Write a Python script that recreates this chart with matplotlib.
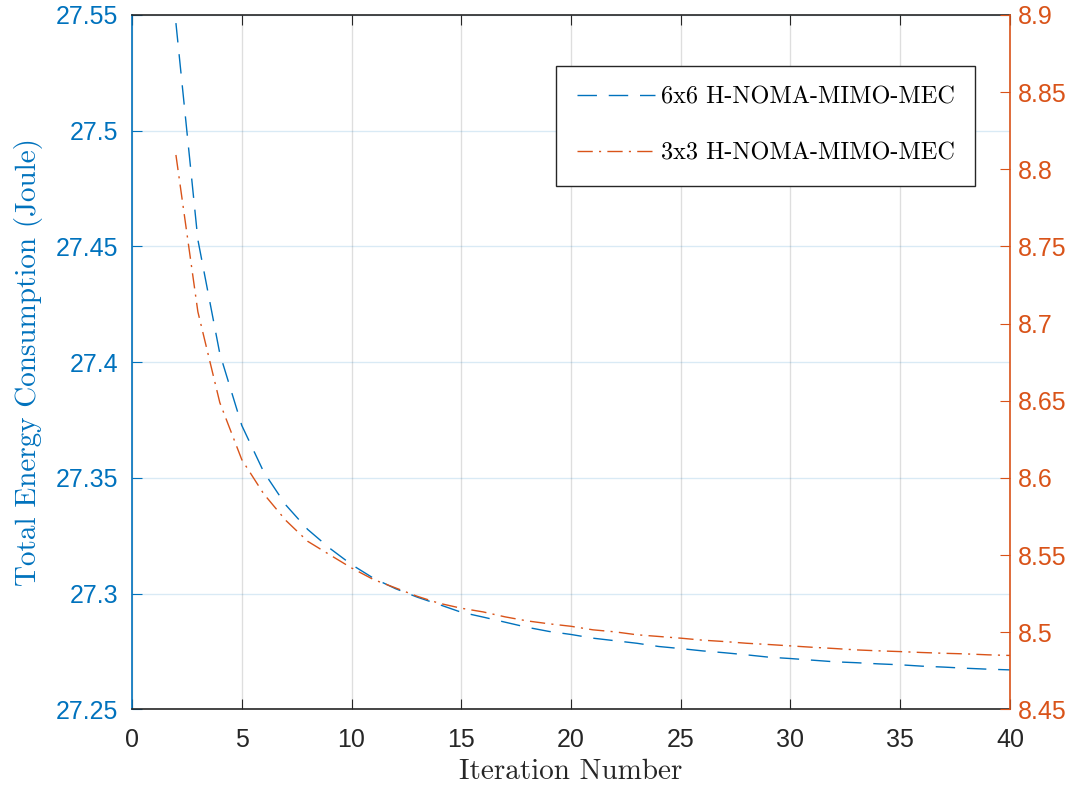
import numpy as np
import matplotlib
matplotlib.use('Agg')
import matplotlib.pyplot as plt

# iteration index (both schemes start at iteration 2)
iters = list(range(2, 41))

# total energy of the 6x6 scheme (left axis, Joule)
energy_6x6 = [27.5465, 27.4529, 27.4037, 27.3727, 27.3526, 27.3384, 27.3278, 27.3197,
              27.3126, 27.3067, 27.3022, 27.2985, 27.2953, 27.2920, 27.2899, 27.2877,
              27.2855, 27.2837, 27.2824, 27.2808, 27.2797, 27.2786, 27.2772, 27.2763,
              27.2753, 27.2745, 27.2736, 27.2726, 27.2720, 27.2713, 27.2706, 27.2702,
              27.2697, 27.2693, 27.2687, 27.2683, 27.2678, 27.2674, 27.2671]

# total energy of the 3x3 scheme (right axis, Joule)
energy_3x3 = [8.8093, 8.7077, 8.6488, 8.6119, 8.5897, 8.5726, 8.5590, 8.5503,
              8.5417, 8.5342, 8.5288, 8.5233, 8.5188, 8.5156, 8.5132, 8.5100,
              8.5074, 8.5055, 8.5039, 8.5016, 8.5003, 8.4984, 8.4973, 8.4962,
              8.4949, 8.4940, 8.4929, 8.4921, 8.4912, 8.4903, 8.4895, 8.4886,
              8.4880, 8.4875, 8.4869, 8.4864, 8.4860, 8.4854, 8.4850]

x_ticks = [0, 5, 10, 15, 20, 25, 30, 35, 40]
left_ticks = [27.25, 27.3, 27.35, 27.4, 27.45, 27.5, 27.55]
left_labels = ['27.25', '27.3', '27.35', '27.4', '27.45', '27.5', '27.55']
right_ticks = [8.45, 8.5, 8.55, 8.6, 8.65, 8.7, 8.75, 8.8, 8.85, 8.9]
right_labels = ['8.45', '8.5', '8.55', '8.6', '8.65', '8.7', '8.75', '8.8', '8.85', '8.9']

BLUE = '#0072BD'
ORANGE = '#D95319'
DARK = '#262626'
SERIF = 'cmr10'
SANS = 'Liberation Sans'

fig = plt.figure(figsize=(10.84, 7.89), dpi=100)
ax = fig.add_axes([0.1218, 0.1008, 0.8099, 0.8802])
ax2 = ax.twinx()

l1, = ax.plot(iters, energy_6x6, color=BLUE, lw=1.0, linestyle=(0, (14, 8.5)),
              label='6x6 H-NOMA-MIMO-MEC')
l2, = ax2.plot(iters, energy_3x3, color=ORANGE, lw=1.0, linestyle=(0, (11, 4.5, 1.5, 4.5)),
               label='3x3 H-NOMA-MIMO-MEC')

# x axis
ax.set_xlim(0, 40)
ax.set_xticks(x_ticks)
ax.set_xticklabels([str(v) for v in x_ticks], fontfamily=SANS, fontsize=18, color=DARK)
ax.set_xlabel('Iteration Number', fontfamily=SERIF, fontsize=21, color=DARK, labelpad=5)

# left axis
ax.set_ylim(27.25, 27.55)
ax.set_yticks(left_ticks)
ax.set_yticklabels(left_labels, fontfamily=SANS, fontsize=18, color=BLUE)
ax.set_ylabel('Total Energy Consumption (Joule)', fontfamily=SERIF, fontsize=21,
              color=BLUE, labelpad=9)

# right axis
ax2.set_ylim(8.45, 8.9)
ax2.set_yticks(right_ticks)
ax2.set_yticklabels(right_labels, fontfamily=SANS, fontsize=18, color=ORANGE)

# grid: gray verticals, bluish horizontals
ax.xaxis.grid(True, color=DARK, alpha=0.15, lw=1.0)
ax.yaxis.grid(True, color=BLUE, alpha=0.15, lw=1.0)
ax.set_axisbelow(True)

ax.tick_params(axis='x', direction='in', length=7, width=0.8, color=DARK,
               top=True, bottom=True, pad=13)
ax.tick_params(axis='y', direction='in', length=7, width=0.8, color=BLUE,
               left=True, right=False, pad=10)
ax2.tick_params(axis='y', direction='in', length=7, width=0.8, color=ORANGE, pad=6)

for s in ['top', 'bottom']:
    ax.spines[s].set_color(DARK)
    ax.spines[s].set_linewidth(1.2)
    ax2.spines[s].set_visible(False)
ax.spines['left'].set_color(BLUE)
ax.spines['left'].set_linewidth(1.2)
ax.spines['right'].set_visible(False)
ax2.spines['left'].set_visible(False)
ax2.spines['right'].set_color(ORANGE)
ax2.spines['right'].set_linewidth(1.2)

leg = ax2.legend(handles=[l1, l2], loc='upper left', bbox_to_anchor=(0.483, 0.9266),
                 borderaxespad=0, prop={'family': SERIF, 'size': 17.5},
                 handlelength=3.2, handletextpad=0.25,
                 labelspacing=1.4, borderpad=0.85, fancybox=False, framealpha=1,
                 edgecolor=DARK)
leg.get_frame().set_linewidth(1.0)

fig.savefig('out.png', dpi=100)
